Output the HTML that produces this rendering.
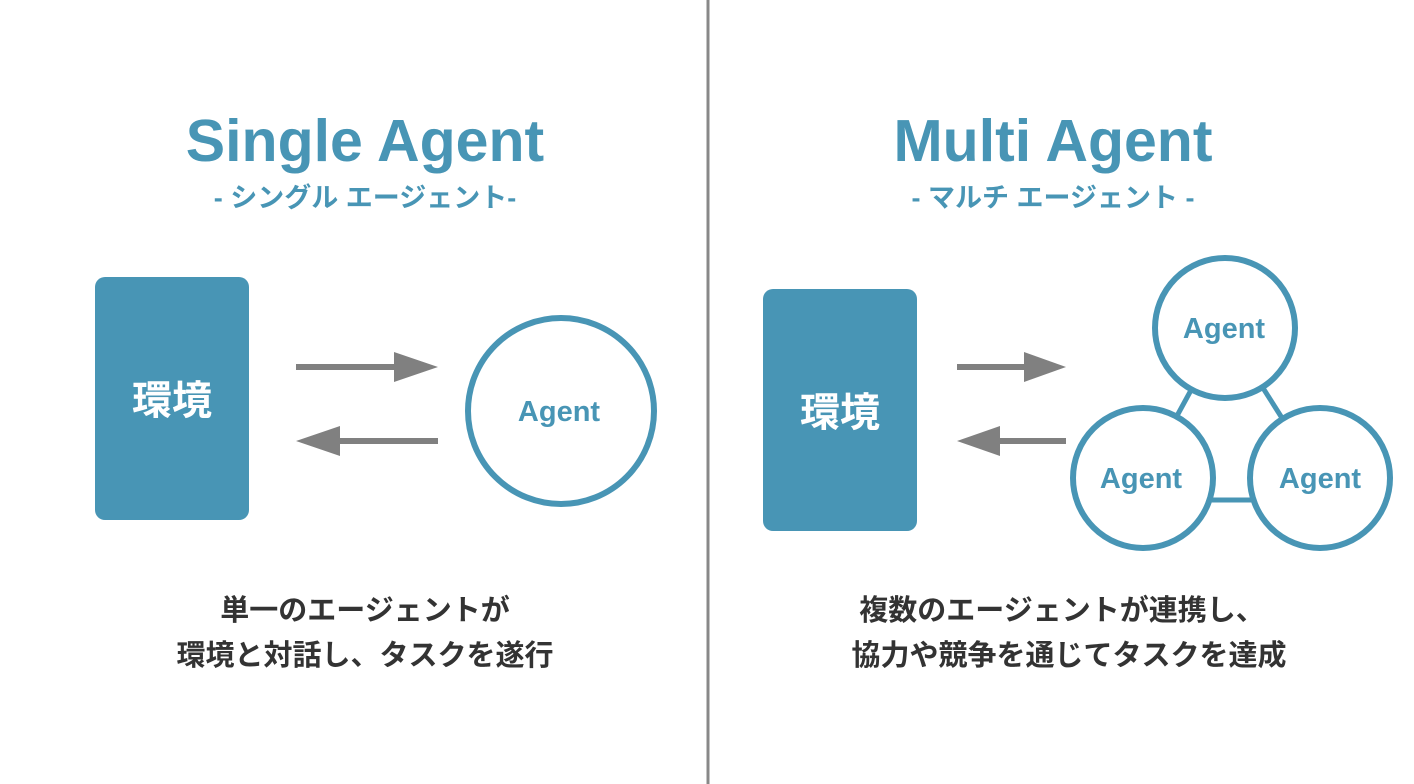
<!DOCTYPE html>
<html><head><meta charset="utf-8"><style>
body{margin:0;width:1414px;height:784px;background:#fff;overflow:hidden;position:relative;font-family:"Liberation Sans","Noto Sans CJK JP",sans-serif}
</style></head><body>
<svg width="1414" height="784" style="position:absolute;left:0;top:0" font-family="Liberation Sans, Noto Sans CJK JP, sans-serif" font-weight="bold">
<line x1="708" y1="0" x2="708" y2="784" stroke="#888" stroke-width="3"/>
<text x="365" y="161" font-size="59" fill="#4895b5" text-anchor="middle">Single Agent</text>
<text x="365" y="207" font-size="27" fill="#4895b5" text-anchor="middle">- シングル エージェント-</text>
<text x="1053" y="161" font-size="59" fill="#4895b5" text-anchor="middle">Multi Agent</text>
<text x="1053" y="207" font-size="27" fill="#4895b5" text-anchor="middle">- マルチ エージェント -</text>
<rect x="95" y="277" width="154" height="243" rx="10" fill="#4895b5"/>
<text x="172" y="414" font-size="40" fill="#fff" text-anchor="middle">環境</text>
<g fill="#808080">
<rect x="296" y="364" width="102" height="6"/><polygon points="394,352 438,367 394,382"/>
<rect x="336" y="438" width="102" height="6"/><polygon points="340,426 296,441 340,456"/>
<rect x="957" y="364" width="72" height="6"/><polygon points="1024,352 1066,367 1024,382"/>
<rect x="998" y="438" width="68" height="6"/><polygon points="1000,426 957,441 1000,456"/>
</g>
<circle cx="561" cy="411" r="93" fill="#fff" stroke="#4895b5" stroke-width="6"/>
<text x="559" y="421" font-size="29" fill="#4895b5" text-anchor="middle">Agent</text>
<rect x="763" y="289" width="154" height="242" rx="10" fill="#4895b5"/>
<text x="840" y="426" font-size="40" fill="#fff" text-anchor="middle">環境</text>
<g stroke="#4895b5" stroke-width="5">
<line x1="1225" y1="328" x2="1143" y2="478"/><line x1="1225" y1="328" x2="1320" y2="478"/><line x1="1143" y1="500" x2="1320" y2="500"/>
</g>
<g fill="#fff" stroke="#4895b5" stroke-width="6">
<circle cx="1225" cy="328" r="70"/><circle cx="1143" cy="478" r="70"/><circle cx="1320" cy="478" r="70"/>
</g>
<g font-size="29" fill="#4895b5" text-anchor="middle">
<text x="1224" y="338">Agent</text><text x="1141" y="488">Agent</text><text x="1320" y="488">Agent</text>
</g>
<g font-size="29" fill="#333" text-anchor="middle">
<text x="365" y="620">単一のエージェントが</text>
<text x="365" y="665">環境と対話し、タスクを遂行</text>
<text x="1062" y="620">複数のエージェントが連携し、</text>
<text x="1069" y="665">協力や競争を通じてタスクを達成</text>
</g>
</svg>
</body></html>
